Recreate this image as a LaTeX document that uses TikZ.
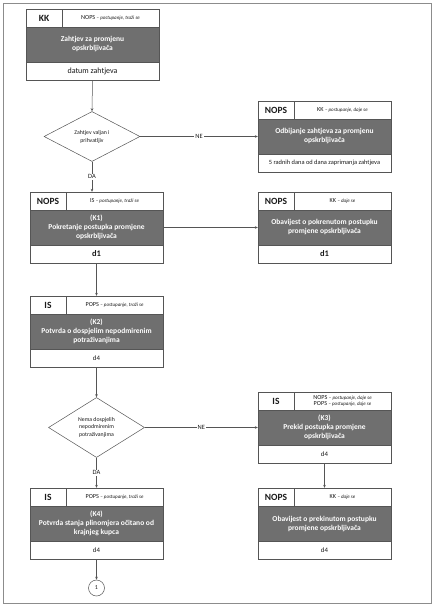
\documentclass[tikz,border=0pt]{standalone}
\usepackage{fontspec}
\setmainfont{Carlito}
\usetikzlibrary{arrows.meta,positioning,fit,shapes.geometric}
\definecolor{frame}{HTML}{8C8C8C}
\definecolor{edge}{HTML}{555555}
\definecolor{band}{HTML}{6F6F6F}
\definecolor{ink}{HTML}{1A1A1A}
\newcommand{\role}[2]{{\fontsize{6.2}{6.6}\selectfont #1} {\fontsize{5}{6.6}\selectfont -- \textit{#2}}}
\tikzset{
  who/.style={draw=edge,fill=white,line width=0.5pt,outer sep=0pt,minimum width=36pt,minimum height=18pt,inner sep=0pt,font=\bfseries\fontsize{9.5}{10}\selectfont,text=ink,anchor=north west},
  hdrcell/.style={draw=edge,fill=white,line width=0.5pt,outer sep=0pt,minimum width=97pt,minimum height=18pt,inner sep=0pt,align=center,text=ink,font=\fontsize{6.2}{6.8}\selectfont,anchor=north west},
  darkband/.style={draw=edge,fill=band,line width=0.5pt,outer sep=0pt,minimum width=133pt,minimum height=35pt,inner sep=0pt,align=center,text=white,font=\bfseries\fontsize{7.5}{9}\selectfont,anchor=north west},
  foot/.style={draw=edge,fill=white,line width=0.5pt,outer sep=0pt,minimum width=133pt,minimum height=18pt,inner sep=0pt,text=ink,font=\fontsize{6.8}{8}\selectfont,anchor=north west},
  decision/.style={diamond,draw=edge,fill=white,line width=0.5pt,aspect=2,inner sep=0pt,minimum width=96pt,minimum height=50pt,align=center,font=\fontsize{5.8}{7}\selectfont,text=ink},
  lbl/.style={fill=white,inner sep=1pt,font=\fontsize{6.5}{7}\selectfont,text=ink},
  conn/.style={circle,draw=edge,fill=white,line width=0.5pt,minimum size=16pt,inner sep=0pt,font=\fontsize{6}{7}\selectfont,text=ink},
  arr/.style={-{Stealth[length=3pt,width=2.6pt]},draw=edge,line width=0.5pt}
}
\begin{document}
\begin{tikzpicture}[x=1pt,y=-1pt]
\useasboundingbox (0,0) rectangle (435,607);
\draw[frame,line width=0.8pt] (3,3) rectangle (431,603);
% process boxes
\foreach \x/\y/\nm/\who/\hdr/\ttl/\sub in {
26/9/req/KK/{\role{NOPS}{postupanje, traži se}}/{Zahtjev za promjenu\\opskrbljivača}/{\fontsize{8}{9}\selectfont datum zahtjeva},
258/101/rej/NOPS/{\role{KK}{postupanje, daje se}}/{Odbijanje zahtjeva za promjenu\\opskrbljivača}/{\fontsize{6.4}{7}\selectfont 5 radnih dana od dana zaprimanja zahtjeva},
30/192/k1/NOPS/{\role{IS}{postupanje, traži se}}/{(K1)\\Pokretanje postupka promjene\\opskrbljivača}/{\bfseries\fontsize{8.5}{9}\selectfont d1},
258/192/inf1/NOPS/{\role{KK}{daje se}}/{Obavijest o pokrenutom postupku\\promjene opskrbljivača}/{\bfseries\fontsize{8.5}{9}\selectfont d1},
30/296/k2/IS/{\role{POPS}{postupanje, traži se}}/{(K2)\\Potvrda o dospjelim nepodmirenim\\potraživanjima}/{d4},
258/392/k3/IS/{\role{NOPS}{postupanje, daje se}\\\role{POPS}{postupanje, daje se}}/{(K3)\\Prekid postupka promjene\\opskrbljivača}/{d4},
258/488/inf2/NOPS/{\role{KK}{daje se}}/{Obavijest o prekinutom postupku\\promjene opskrbljivača}/{d4},
30/488/k4/IS/{\role{POPS}{postupanje, traži se}}/{(K4)\\Potvrda stanja plinomjera očitano od\\krajnjeg kupca}/{d4}}
{
\node[who] (\nm-l) at (\x,\y) {\who};
\node[hdrcell] (\nm-r) at (\nm-l.north east) {\hdr};
\node[darkband] (\nm-m) at (\nm-l.south west) {\ttl};
\node[foot] (\nm-f) at (\nm-m.south west) {\sub};
\node[fit=(\nm-l)(\nm-f),inner sep=0pt] (\nm) {};
}
% decisions
\node[decision] (valid) at (92,136.5) {Zahtjev valjan i\\[1pt]prihvatljiv};
\node[decision,minimum height=60pt] (valid2) at (96.5,427.5) {Nema dospjelih\\nepodmirenim\\[1.5pt]potraživanjima};
\node[conn] (end) at (96.5,588) {1};
% connectors
\draw[arr] (req.south) -- (valid.north);
\draw[arr] (valid.east) -- node[lbl]{NE} (rej.west);
\draw[arr] (valid.south) -- node[lbl]{DA} (valid.south |- k1.north);
\draw[arr] (k1.east) -- (inf1.west);
\draw[arr] (k1.south) -- (k2.north);
\draw[arr] (k2.south) -- (valid2.north);
\draw[arr] (valid2.east) -- node[lbl]{NE} (k3.west);
\draw[arr] (valid2.south) -- node[lbl]{DA} (k4.north);
\draw[arr] (k3.south) -- (inf2.north);
\draw[arr] (k4.south) -- (end.north);
\end{tikzpicture}
\end{document}
